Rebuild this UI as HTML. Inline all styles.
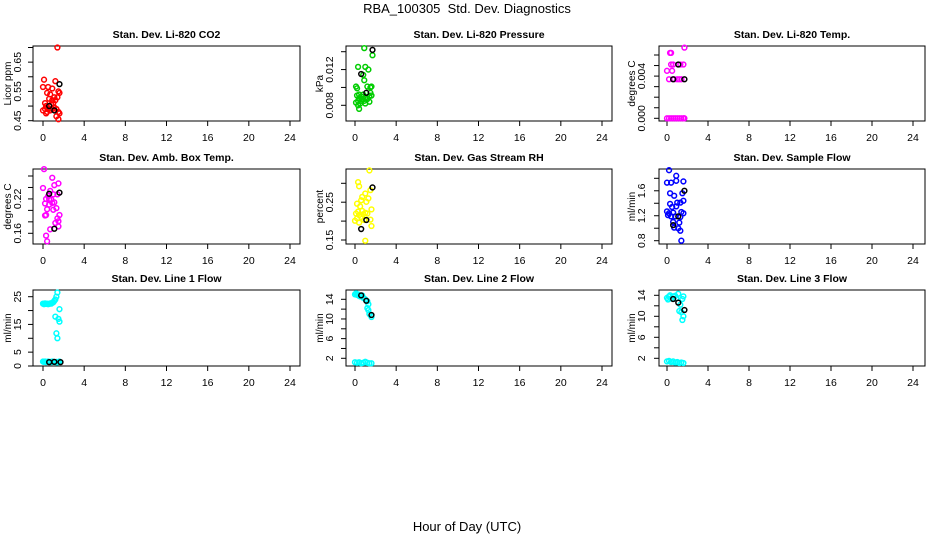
<!DOCTYPE html>
<html><head><meta charset="utf-8"><style>
html,body{margin:0;padding:0;background:#fff}
svg{display:block;font-family:"Liberation Sans",Arial,sans-serif}
</style></head><body>
<svg id="chart" width="936" height="540" viewBox="0 0 936 540">
<text x="467" y="13" text-anchor="middle" font-size="13">RBA_100305 &#160;Std. Dev. Diagnostics</text>
<text x="467" y="531" text-anchor="middle" font-size="13">Hour of Day (UTC)</text>
</svg>
<script>
// ---- data (hour, value) ----
const co2Hours = [1.4,0.1,1.2,0,0.5,0.9,1.5,1.6,0.4,0.7,1.1,1.4,0.6,0.9,1.2,0.2,1.0,0.8,0.3,0.6,1.1,0.2,0.5,0.9,1.3,0,0.4,0.7,1.5,0.3,1.6,1.3,1.5];
const co2Values = [0.70,0.59,0.585,0.565,0.565,0.56,0.55,0.545,0.545,0.54,0.53,0.53,0.525,0.52,0.52,0.51,0.51,0.505,0.50,0.50,0.495,0.49,0.49,0.49,0.49,0.485,0.48,0.485,0.48,0.475,0.475,0.465,0.455];
const co2BlackHours = [1.6,0.6,1.1];
const co2BlackValues = [0.575,0.50,0.485];

const presHours = [0.9,1.7,0.3,1.0,1.3,0.8,0.9,0.1,0.2,1.2,1.5,1.6,1.5,0.4,0.8,1.4,0.2,0.6,1.0,1.6,0.4,0.7,1.2,0.3,0.6,0.9,0.1,1.0,0.5,0.3,1.4,0.4];
const presValues = [0.0144,0.0136,0.0123,0.0123,0.0120,0.0114,0.0108,0.0101,0.0099,0.0101,0.0100,0.0101,0.0094,0.0092,0.0092,0.0090,0.0091,0.0090,0.0089,0.0091,0.0088,0.0087,0.0087,0.0085,0.0085,0.0085,0.0083,0.0082,0.0082,0.0080,0.0084,0.0076];
const presBlackHours = [1.7,0.6,1.1];
const presBlackValues = [0.0142,0.0115,0.0094];

const tempHours = [1.7,0.3,0.4,0.4,0.6,1.3,1.6,0,0.5,0.2,0.7,1.0,1.2,1.4,0,0.2,0.4,0.6,0.8,1.0,1.2,1.4,1.6,1.7];
const tempValues = [0.0067,0.0062,0.0062,0.0051,0.0051,0.0051,0.0051,0.0045,0.0045,0.0037,0.0037,0.0037,0.0037,0.0037,0,0,0,0,0,0,0,0,0,0];
const tempBlackHours = [1.1,0.6,1.7];
const tempBlackValues = [0.0051,0.0037,0.0037];

const boxHours = [0.1,0.9,1.5,1.1,0,0.7,1.0,0.5,1.4,0.3,0.8,0.2,1.1,0.6,1.3,0.4,1.0,0.3,0.2,1.6,1.4,1.5,1.2,1.5,0.7,0.3,0.4,0.6,0.9];
const boxValues = [0.272,0.257,0.247,0.244,0.239,0.234,0.228,0.225,0.228,0.22,0.219,0.212,0.214,0.21,0.204,0.202,0.201,0.192,0.191,0.192,0.186,0.181,0.178,0.172,0.167,0.156,0.146,0.219,0.213];
const boxBlackHours = [0.6,1.6,1.1];
const boxBlackValues = [0.229,0.231,0.168];

const rhHours = [1.4,0.3,0.4,1.5,1.0,0.7,1.3,0.6,1.1,0.2,0.5,1.6,0.3,0.7,1.0,0.1,0.4,0.8,1.2,0.2,0.6,1.5,0,0.9,0.4,1.6,1.0];
const rhValues = [0.334,0.303,0.292,0.282,0.273,0.264,0.26,0.255,0.251,0.246,0.239,0.231,0.225,0.227,0.222,0.22,0.216,0.218,0.22,0.207,0.211,0.204,0.201,0.203,0.196,0.187,0.148];
const rhBlackHours = [1.7,1.1,0.6];
const rhBlackValues = [0.289,0.203,0.179];

const sampHours = [0.2,0.9,0.9,0,0.4,1.6,0.3,0.7,1.5,1.6,0.3,1.0,1.3,0.9,0.5,0,1.4,0.2,0.6,1.6,0.1,0.4,0.8,1.3,0.6,1.2,0.7,1.1,1.3,1.4];
const sampValues = [1.93,1.84,1.76,1.73,1.73,1.75,1.56,1.52,1.56,1.44,1.39,1.41,1.41,1.35,1.34,1.27,1.26,1.24,1.25,1.24,1.21,1.19,1.19,1.18,1.10,1.09,1.01,1.0,0.96,0.8];
const sampBlackHours = [1.7,1.1,0.6];
const sampBlackValues = [1.6,1.19,1.05];

const l1Hours = [0,0.1,0.2,0.3,0.4,0.5,0.6,0.7,0.8,0.9,1.0,1.1,1.2,1.3,1.4,1.6,1.2,1.5,1.6,1.3,1.4,0,0.1,0.2,0.3,0.4,0.5,0.7,0.8,0.9,1.0,1.2,1.3,1.4,1.5,1.6];
const l1Values = [22.5,22.3,22.6,22.4,22.5,22.3,22.4,22.6,22.5,22.8,23,23.5,24,25,26.5,20.5,17.8,17,16,11.8,10,1.6,1.5,1.6,1.4,1.5,1.6,1.5,1.4,1.6,1.5,1.4,1.5,1.3,1.5,1.6];
const l1BlackHours = [0.6,1.1,1.7];
const l1BlackValues = [1.4,1.5,1.4];

const l2Hours = [0,0.1,0.2,0.3,0.4,0.5,0.7,0.8,1.0,1.2,1.3,1.2,1.4,1.6,1.3,0,0.2,0.4,0.6,0.8,1.0,1.2,1.4,1.6];
const l2Values = [15,15.2,14.9,15,14.7,14.6,14.8,14.3,14,13.6,13,12.2,11,10.4,11.8,1.2,1.1,1.2,1.0,1.1,1.3,1.1,1.0,1.0];
const l2BlackHours = [0.6,1.1,1.6];
const l2BlackValues = [14.8,13.7,10.8];

const l3Hours = [0,0.1,0.2,0.3,0.4,0.6,0.8,0.9,1.1,1.3,1.6,1.5,1.2,1.4,1.6,1.5,0,0.2,0.4,0.6,0.8,1.0,1.2,1.4,1.6];
const l3Values = [13.5,13.2,13.8,14,13.4,13.8,13.9,13.4,14.3,12.2,13.8,13.3,11,10.8,10,9.3,1.4,1.5,1.3,1.4,1.2,1.3,1.1,1.2,1.1];
const l3BlackHours = [0.6,1.1,1.7];
const l3BlackValues = [13.3,12.6,11.2];

const xTickLabels = [0,4,8,12,16,20,24];

const co2Ticks = [0.45,0.50,0.55,0.60,0.65,0.70];
const co2TickLabels = ["0.45","","0.55","","0.65",""];
const presTicks = [0.008,0.010,0.012,0.014];
const presTickLabels = ["0.008","","0.012",""];
const tempTicks = [0,0.001,0.002,0.003,0.004,0.005,0.006];
const tempTickLabels = ["0.000","","","","0.004","",""];
const boxTicks = [0.16,0.18,0.20,0.22,0.24,0.26];
const boxTickLabels = ["0.16","","","0.22","",""];
const rhTicks = [0.15,0.20,0.25,0.30];
const rhTickLabels = ["0.15","","0.25",""];
const sampTicks = [0.8,1.0,1.2,1.4,1.6,1.8];
const sampTickLabels = ["0.8","","1.2","","1.6",""];
const l1Ticks = [0,5,10,15,20,25];
const l1TickLabels = ["0","5","","15","","25"];
const l23Ticks = [2,4,6,8,10,12,14];
const l23TickLabels = ["2","","6","","10","","14"];

// ---- layout ----
const cols = [
  {bl:33, br:300, x0:43, x24:290, tl:17, yl:7},
  {bl:346, br:612, x0:355, x24:602, tl:329, yl:319},
  {bl:659, br:925, x0:667, x24:913, tl:641, yl:631}
];
const rows = [{top:46, bot:121},{top:169, bot:244},{top:290, bot:366}];

const panels = [
 {name:"co2", title:"Stan. Dev. Li-820 CO2", ylab:"Licor ppm", c:0, r:0, color:"#ff0000", h:co2Hours, v:co2Values, bh:co2BlackHours, bv:co2BlackValues, ticks:co2Ticks, labels:co2TickLabels, ya:[0.45,120.7], yb:[0.70,47.5]},
 {name:"pressure", title:"Stan. Dev. Li-820 Pressure", ylab:"kPa", c:1, r:0, color:"#00cd00", h:presHours, v:presValues, bh:presBlackHours, bv:presBlackValues, ticks:presTicks, labels:presTickLabels, ya:[0.008,105.3], yb:[0.014,51.7]},
 {name:"temp", title:"Stan. Dev. Li-820 Temp.", ylab:"degrees C", c:2, r:0, color:"#ff00ff", h:tempHours, v:tempValues, bh:tempBlackHours, bv:tempBlackValues, ticks:tempTicks, labels:tempTickLabels, ya:[0,118.3], yb:[0.006,55]},
 {name:"amb-box-temp", title:"Stan. Dev. Amb. Box Temp.", ylab:"degrees C", c:0, r:1, color:"#ff00ff", h:boxHours, v:boxValues, bh:boxBlackHours, bv:boxBlackValues, ticks:boxTicks, labels:boxTickLabels, ya:[0.16,233.3], yb:[0.26,176]},
 {name:"gas-rh", title:"Stan. Dev. Gas Stream RH", ylab:"percent", c:1, r:1, color:"#ffff00", h:rhHours, v:rhValues, bh:rhBlackHours, bv:rhBlackValues, ticks:rhTicks, labels:rhTickLabels, ya:[0.15,240], yb:[0.30,183.3]},
 {name:"sample-flow", title:"Stan. Dev. Sample Flow", ylab:"ml/min", c:2, r:1, color:"#0000ff", h:sampHours, v:sampValues, bh:sampBlackHours, bv:sampBlackValues, ticks:sampTicks, labels:sampTickLabels, ya:[0.8,240.7], yb:[1.8,178.3]},
 {name:"line1-flow", title:"Stan. Dev. Line 1 Flow", ylab:"ml/min", c:0, r:2, color:"#00ffff", h:l1Hours, v:l1Values, bh:l1BlackHours, bv:l1BlackValues, ticks:l1Ticks, labels:l1TickLabels, ya:[0,366], yb:[25,296.7]},
 {name:"line2-flow", title:"Stan. Dev. Line 2 Flow", ylab:"ml/min", c:1, r:2, color:"#00ffff", h:l2Hours, v:l2Values, bh:l2BlackHours, bv:l2BlackValues, ticks:l23Ticks, labels:l23TickLabels, ya:[2,358.3], yb:[14,299.3]},
 {name:"line3-flow", title:"Stan. Dev. Line 3 Flow", ylab:"ml/min", c:2, r:2, color:"#00ffff", h:l3Hours, v:l3Values, bh:l3BlackHours, bv:l3BlackValues, ticks:l23Ticks, labels:l23TickLabels, ya:[2,358.3], yb:[14,295.3]}
];

const NS = "http://www.w3.org/2000/svg";
const svg = document.getElementById("chart");
function mk(tag, attrs, parent){
  const e = document.createElementNS(NS, tag);
  for (const k in attrs) e.setAttribute(k, attrs[k]);
  parent.appendChild(e);
  return e;
}

panels.forEach(p => {
  const col = cols[p.c], row = rows[p.r];
  const xs = h => col.x0 + (col.x24 - col.x0) * h / 24;
  const ys = v => p.ya[1] + (p.yb[1] - p.ya[1]) * (v - p.ya[0]) / (p.yb[0] - p.ya[0]);
  const g = mk("g", {}, svg);
  
  

  const t = mk("text", {x:(col.bl+col.br)/2, y:row.top-8, "text-anchor":"middle", "font-size":"10.5", "font-weight":"bold"}, g);
  t.textContent = p.title;
  
  

  const box = mk("rect", {x:col.bl, y:row.top, width:col.br-col.bl, height:row.bot-row.top, fill:"none", stroke:"#000", "stroke-width":"1"}, g);
  
  

  xTickLabels.forEach(v => {
    const x = xs(v);
    const l = mk("line", {x1:x, x2:x, y1:row.bot, y2:row.bot+5, stroke:"#000"}, g);
    
    
    const tx = mk("text", {x:x, y:row.bot+20, "text-anchor":"middle", "font-size":"10.5"}, g);
    tx.textContent = v;
    
    
  });
  p.ticks.forEach((v, i) => {
    const y = ys(v);
    const l = mk("line", {x1:col.bl-5, x2:col.bl, y1:y, y2:y, stroke:"#000"}, g);
    
    
    if (p.labels[i]) {
      const tx = mk("text", {x:col.tl, y:y, "text-anchor":"middle", "font-size":"10.5", transform:`rotate(-90 ${col.tl} ${y})`, dy:"4"}, g);
      tx.textContent = p.labels[i];
      
      
    }
  });
  const yc = (row.top + row.bot) / 2;
  const yl = mk("text", {x:col.yl, y:yc, "text-anchor":"middle", "font-size":"10", transform:`rotate(-90 ${col.yl} ${yc})`, dy:"4"}, g);
  yl.textContent = p.ylab;
  
  

  p.h.forEach((h, i) => {
    const c = mk("circle", {cx:xs(h), cy:ys(p.v[i]), r:2.4, fill:"none", stroke:p.color, "stroke-width":"1.5"}, g);
    
    
  });
  p.bh.forEach((h, i) => {
    const c = mk("circle", {cx:xs(h), cy:ys(p.bv[i]), r:2.4, fill:"none", stroke:"#000", "stroke-width":"1.5"}, g);
    
    
  });
});
</script>
</body></html>
